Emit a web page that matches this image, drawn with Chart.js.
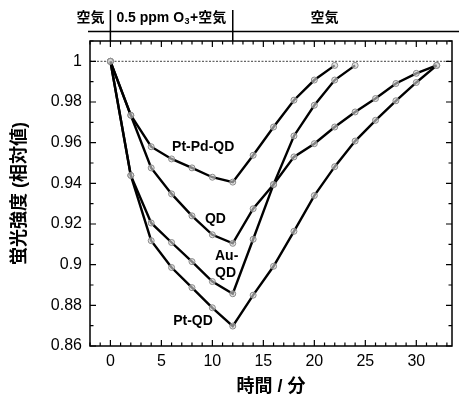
<!DOCTYPE html>
<html>
<head>
<meta charset="utf-8">
<script src="https://cdn.jsdelivr.net/npm/chart.js@4"></script>
<style>
html,body{margin:0;padding:0;background:#fff;}
#wrap{width:459px;height:402px;}
</style>
</head>
<body>
<div id="wrap"><canvas id="c" width="459" height="402"></canvas></div>
<script>
// ---- data ----
const timesPtPd = [0,2,4,6,8,10,12,14,16,18,20,22];
const valsPtPd  = [1,0.9735,0.958,0.952,0.9476,0.943,0.9406,0.9538,0.9677,0.9809,0.9908,0.998];
const timesQD   = [0,2,4,6,8,10,12,14,16,18,20,22,24,26,28,30,32];
const valsQD    = [1,0.9735,0.9476,0.9348,0.924,0.9147,0.9105,0.9275,0.9394,0.953,0.9595,0.9677,0.9751,0.9817,0.9891,0.9941,0.998];
const timesAu   = [0,2,4,6,8,10,12,14,16,18,20,22,24];
const valsAu    = [1,0.9439,0.9205,0.9109,0.9015,0.8917,0.8857,0.9125,0.9395,0.9633,0.9784,0.9908,0.998];
const timesPt   = [0,2,4,6,8,10,12,14,16,18,20,22,24,26,28,30,32];
const valsPt    = [1,0.9439,0.9118,0.8986,0.8887,0.8788,0.8698,0.885,0.8992,0.9164,0.934,0.9482,0.9608,0.971,0.9806,0.9896,0.998];
const seriesNames = ['Pt-Pd-QD','QD','Au-QD','Pt-QD'];
const xTicks = [0,5,10,15,20,25,30];
const yTicks = [0.86,0.88,0.9,0.92,0.94,0.96,0.98,1];
const phaseBounds = [0,12];
const phaseLabels = ['空気','0.5 ppm O|3|+空気','空気'];
const refValue = 1;
const xMin = -2, xMax = 33.5, yMin = 0.86, yMax = 1.01;

const FONT = "'Liberation Sans', Arial, 'Noto Sans CJK JP', sans-serif";
const toPts = (ts, vs) => ts.map((t,i)=>({x:t,y:vs[i]}));

function lineDs(label, ts, vs){
  return {
    label, data: toPts(ts, vs), showLine:true,
    borderColor:'#000', borderWidth:2.4, tension:0,
    pointRadius:3, pointBorderWidth:1, pointBorderColor:'#8a8a8a',
    pointBackgroundColor:'rgba(215,215,215,0.6)', order:1
  };
}

const datasets = [
  {label:'ref', data:[{x:xMin,y:refValue},{x:xMax,y:refValue}], showLine:true,
   borderColor:'#666', borderWidth:1.2, borderDash:[2,1.5], pointRadius:0, order:5},
  lineDs(seriesNames[0], timesPtPd, valsPtPd),
  lineDs(seriesNames[1], timesQD, valsQD),
  lineDs(seriesNames[2], timesAu, valsAu),
  lineDs(seriesNames[3], timesPt, valsPt)
];

const decor = {
  id:'decor',
  afterDatasetsDraw(chart){
    const {ctx, chartArea:a, scales:{x, y}} = chart;
    ctx.save();
    // frame
    ctx.strokeStyle='#000'; ctx.lineWidth=1.5;
    ctx.strokeRect(a.left, a.top, a.right-a.left, a.bottom-a.top);
    // inside ticks x
    ctx.lineWidth=1.2;
    for(let t=Math.ceil(xMin); t<=Math.floor(xMax); t++){
      const px = x.getPixelForValue(t);
      const len = (t%5===0)?6:3.5;
      ctx.beginPath();
      ctx.moveTo(px,a.bottom); ctx.lineTo(px,a.bottom-len);
      ctx.moveTo(px,a.top); ctx.lineTo(px,a.top+len);
      ctx.stroke();
    }
    // inside ticks y
    for(let k=86;k<=101;k++){
      const py = y.getPixelForValue(k/100);
      const len = (k%2===0)?6:3.5;
      ctx.beginPath();
      ctx.moveTo(a.left,py); ctx.lineTo(a.left+len,py);
      ctx.moveTo(a.right,py); ctx.lineTo(a.right-len,py);
      ctx.stroke();
    }
    // top phase annotation
    const lineY = 31.5;
    ctx.lineWidth=1.5;
    ctx.beginPath();
    ctx.moveTo(a.left-2,lineY); ctx.lineTo(chart.width,lineY);
    phaseBounds.forEach(b=>{
      const px = x.getPixelForValue(b);
      ctx.moveTo(px,10); ctx.lineTo(px,a.top);
    });
    ctx.stroke();
    ctx.fillStyle='#000';
    ctx.textBaseline='middle';
    const ty = 18;
    ctx.font = "bold 14px "+FONT;
    const p0 = x.getPixelForValue(phaseBounds[0]);
    ctx.textAlign='right';
    ctx.fillText(phaseLabels[0], p0-6, ty);
    // middle label with subscript
    ctx.textAlign='left';
    const parts = phaseLabels[1].split('|');
    let cx = p0+6;
    ctx.fillText(parts[0], cx, ty); cx += ctx.measureText(parts[0]).width;
    ctx.font = "bold 9px "+FONT;
    ctx.fillText(parts[1], cx+0.5, ty+4); cx += ctx.measureText(parts[1]).width+1;
    ctx.font = "bold 14px "+FONT;
    ctx.fillText(parts[2], cx, ty);
    ctx.textAlign='center';
    ctx.fillText(phaseLabels[2], x.getPixelForValue(21), ty);
    // series labels
    ctx.font = "bold 14px "+FONT;
    ctx.textAlign='center';
    ctx.fillText(seriesNames[0], x.getPixelForValue(9.1), y.getPixelForValue(0.9578));
    ctx.fillText(seriesNames[1], x.getPixelForValue(10.3), y.getPixelForValue(0.9223));
    ctx.fillText('Au-', x.getPixelForValue(11.4), y.getPixelForValue(0.9040));
    ctx.fillText('QD', x.getPixelForValue(11.3), y.getPixelForValue(0.8956));
    ctx.fillText(seriesNames[3], x.getPixelForValue(8.1), y.getPixelForValue(0.8722));
    ctx.restore();
  }
};

new Chart(document.getElementById('c'), {
  type:'scatter',
  data:{datasets},
  plugins:[decor],
  options:{
    responsive:false, animation:false,
    layout:{padding:{top:41,right:7,left:0,bottom:0}},
    plugins:{legend:{display:false}, tooltip:{enabled:false}},
    scales:{
      x:{
        type:'linear', min:xMin, max:xMax,
        afterBuildTicks: s => { s.ticks = xTicks.map(v=>({value:v})); },
        afterFit: s => { s.height = 56; },
        grid:{display:false, drawTicks:false},
        border:{display:false},
        ticks:{color:'#000', padding:6, font:{size:16, family:FONT},
               callback:v=>String(v)},
        title:{display:true, text:'時間 / 分', color:'#000',
               font:{size:18, weight:'bold', family:FONT}, padding:{top:0,bottom:4}}
      },
      y:{
        type:'linear', min:yMin, max:yMax,
        afterBuildTicks: s => { s.ticks = yTicks.map(v=>({value:v})); },
        afterFit: s => { s.width = 90; },
        grid:{display:false, drawTicks:false},
        border:{display:false},
        ticks:{color:'#000', padding:8, font:{size:16, family:FONT},
               callback:v=>String(Number(v.toFixed(2)))},
        title:{display:true, text:'蛍光強度 (相対値)', color:'#000',
               font:{size:18, weight:'bold', family:FONT}, padding:{top:9,bottom:0}}
      }
    }
  }
});
</script>
</body>
</html>
